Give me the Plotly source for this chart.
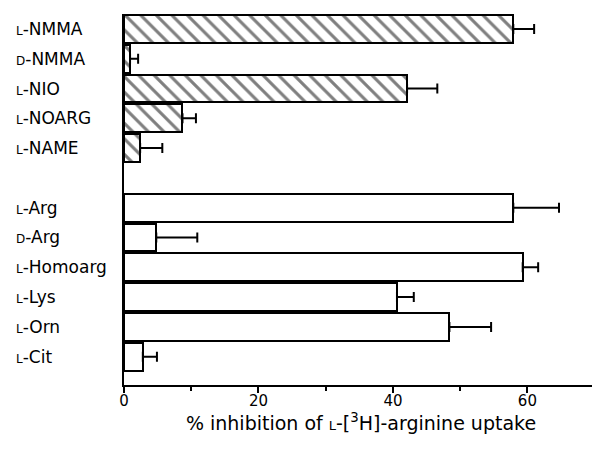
import plotly.graph_objects as go

# ---- data ----
inhib_names = ["NMMA", "NMMA", "NIO", "NOARG", "NAME"]
inhib_prefix = ["L", "D", "L", "L", "L"]
inhib_values = [57.9, 0.9, 42.1, 8.7, 2.4]
inhib_errors = [3.1, 1.2, 4.5, 2.0, 3.3]

amino_names = ["Arg", "Arg", "Homoarg", "Lys", "Orn", "Cit"]
amino_prefix = ["L", "D", "L", "L", "L", "L"]
amino_values = [57.9, 4.8, 59.3, 40.6, 48.4, 2.8]
amino_errors = [6.8, 6.1, 2.3, 2.5, 6.2, 2.1]

x_tickvals = [0, 20, 40, 60]
x_title = "% inhibition of <span style='font-size:13px'>L</span>-[<sup>3</sup>H]-arginine uptake"

FONT = "DejaVu Sans, sans-serif"

inhib_cats = [f"{p}-{n}" for p, n in zip(inhib_prefix, inhib_names)]
amino_cats = [f"{p}-{n}" for p, n in zip(amino_prefix, amino_names)]
spacer = " "
cat_order = inhib_cats + [spacer] + amino_cats

fig = go.Figure()
fig.add_trace(go.Bar(
    y=inhib_cats, x=inhib_values, orientation="h", width=0.93,
    marker=dict(color="white", line=dict(color="black", width=2),
                pattern=dict(shape="\\", fgcolor="black", bgcolor="white",
                             size=11, solidity=0.28)),
    error_x=dict(type="data", array=inhib_errors, symmetric=False,
                 arrayminus=[0] * len(inhib_errors),
                 color="black", thickness=2, width=5),
    showlegend=False,
))
fig.add_trace(go.Bar(
    y=amino_cats, x=amino_values, orientation="h", width=0.93,
    marker=dict(color="white", line=dict(color="black", width=2)),
    error_x=dict(type="data", array=amino_errors, symmetric=False,
                 arrayminus=[0] * len(amino_errors),
                 color="black", thickness=2, width=5),
    showlegend=False,
))

# left-aligned row labels with small-capital prefixes
for cat, pre, name in zip(inhib_cats + amino_cats,
                          inhib_prefix + amino_prefix,
                          inhib_names + amino_names):
    fig.add_annotation(
        x=-0.233, xref="paper", y=cat, yref="y", xanchor="left",
        showarrow=False,
        text=f"<span style='font-size:12px'>{pre}</span>-{name}",
        font=dict(family=FONT, size=17, color="black"),
    )

# page body adds an 8px offset; figure is sized to fit the 600x454 window
fig.update_layout(
    width=592, height=446,
    margin=dict(l=116, r=2, t=6, b=69),
    paper_bgcolor="white", plot_bgcolor="white",
    font=dict(family=FONT, color="black"),
    bargap=0,
)
fig.update_yaxes(
    type="category", categoryorder="array", categoryarray=cat_order,
    range=[11.95, -0.5], showticklabels=False, ticks="",
    showline=True, linecolor="black", linewidth=2, showgrid=False,
    zeroline=False,
)
fig.update_xaxes(
    range=[0, 70.5], tickvals=x_tickvals, ticks="outside", ticklen=6,
    tickwidth=2, tickcolor="black", ticklabelstandoff=-5,
    minor=dict(dtick=10, tick0=0, ticks="outside", ticklen=4, tickwidth=2,
               tickcolor="black", showgrid=False),
    showline=True, linecolor="black", linewidth=2, showgrid=False,
    zeroline=False, tickfont=dict(family=FONT, size=15, color="black"),
    title=dict(text=x_title, font=dict(family=FONT, size=19, color="black"),
               standoff=6),
)

fig.write_html("out.html")
